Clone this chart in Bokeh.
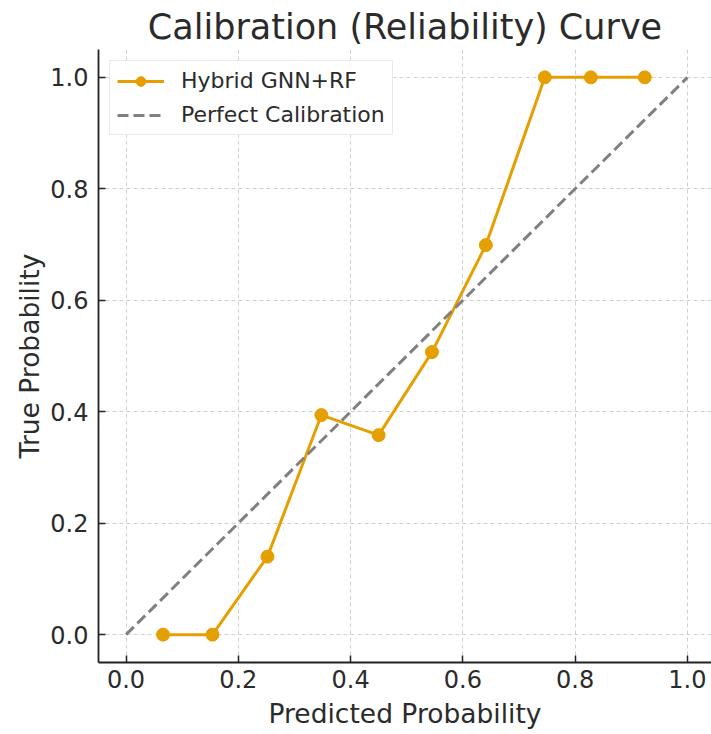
from bokeh.plotting import figure
from bokeh.models import FixedTicker, Range1d, Legend, LegendItem
from bokeh.embed import file_html
from bokeh.resources import INLINE

# Data
pred_prob = [0.066, 0.154, 0.252, 0.348, 0.45, 0.545, 0.641, 0.746, 0.828, 0.924]
true_prob = [0.0, 0.0, 0.14, 0.394, 0.358, 0.507, 0.699, 1.0, 1.0, 1.0]
diag_x = [0.0, 1.0]
diag_y = [0.0, 1.0]
tick_values = [0.0, 0.2, 0.4, 0.6, 0.8, 1.0]
tick_labels = ["0.0", "0.2", "0.4", "0.6", "0.8", "1.0"]

FONT = "DejaVu Sans"
ORANGE = "#E69F00"
GRAY = "#808080"
TXT = "#2b2b2b"

p = figure(width=711, height=734, output_backend="svg", toolbar_location=None,
           x_range=Range1d(-0.049, 1.0429), y_range=Range1d(-0.05, 1.05),
           min_border_left=98, min_border_right=0, min_border_top=49,
           min_border_bottom=72)
p.title.text = "Calibration (Reliability) Curve"
p.title.align = "center"
p.title.text_font = FONT
p.title.text_font_size = "35px"
p.title.text_font_style = "normal"
p.title.text_color = TXT
p.title.standoff = 5
p.title.offset = 0
p.outline_line_color = None
p.background_fill_color = "white"

r_cal = p.line(pred_prob, true_prob, line_color=ORANGE, line_width=3)
r_pts = p.scatter(pred_prob, true_prob, size=13, fill_color=ORANGE, line_color=ORANGE)
r_diag = p.line(diag_x, diag_y, line_color=GRAY, line_width=3, line_dash="11 5")

for ax in (p.xaxis[0], p.yaxis[0]):
    ax.ticker = FixedTicker(ticks=tick_values)
    ax.major_label_overrides = {v: l for v, l in zip(tick_values, tick_labels)}
    ax.major_label_text_font = FONT
    ax.major_label_text_font_size = "24px"
    ax.major_label_text_color = TXT
    ax.axis_label_text_font = FONT
    ax.axis_label_text_font_size = "26.5px"
    ax.axis_label_text_font_style = "normal"
    ax.axis_label_text_color = TXT
    ax.axis_line_color = "#222222"
    ax.axis_line_width = 1.8
    ax.major_tick_line_color = "#222222"
    ax.major_tick_line_width = 1.5
    ax.major_tick_out = 0
    ax.major_tick_in = 7
    ax.minor_tick_line_color = None

p.xaxis.axis_label = "Predicted Probability"
p.yaxis.axis_label = "True Probability"
p.xaxis.major_label_standoff = 7
p.yaxis.major_label_standoff = 10
p.xaxis.axis_label_standoff = 7
p.yaxis.axis_label_standoff = 2

for g in (p.xgrid[0], p.ygrid[0]):
    g.ticker = FixedTicker(ticks=tick_values)
    g.grid_line_color = "#d0d0d0"
    g.grid_line_dash = "4 3"
    g.grid_line_width = 1

legend = Legend(items=[
    LegendItem(label="Hybrid GNN+RF", renderers=[r_cal, r_pts]),
    LegendItem(label="Perfect Calibration", renderers=[r_diag]),
], location="top_left")
legend.label_text_font = FONT
legend.label_text_font_size = "22px"
legend.label_text_color = TXT
legend.border_line_color = "#d6d6d6"
legend.border_line_width = 1.3
legend.background_fill_alpha = 0.9
legend.glyph_width = 47
legend.glyph_height = 24
legend.label_height = 24
legend.label_standoff = 17
legend.margin = 11
legend.padding = 7
legend.spacing = 9
p.add_layout(legend)

open("out.html", "w").write(file_html(p, INLINE))
